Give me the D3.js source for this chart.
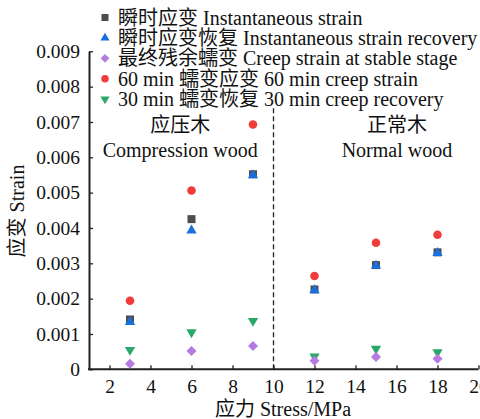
<!DOCTYPE html>
<html>
<head>
<meta charset="utf-8">
<script src="https://cdn.jsdelivr.net/npm/d3@7"></script>
<style>
  body { margin: 0; background: #fff; }
  svg { display: block; }
  text { font-family: "Liberation Serif", "Noto Sans CJK SC", serif; fill: #111; }
  .axis path, .axis line { stroke: #222; }
</style>
</head>
<body>
<svg id="graph"></svg>
<script>
// data
var stress = [3, 6, 9, 12, 15, 18];
var instStrain = [0.00141, 0.00425, 0.00552, 0.00226, 0.00295, 0.00331];
var instRecovery = [0.00134, 0.00393, 0.00549, 0.00224, 0.00293, 0.00329];
var stableCreep = [0.00016, 0.00052, 0.00066, 0.00024, 0.00035, 0.00030];
var creep60 = [0.00194, 0.00506, 0.00693, 0.00264, 0.00358, 0.00381];
var recovery30 = [0.00055, 0.00105, 0.00137, 0.00036, 0.00058, 0.00048];
var seriesNames = ["瞬时应变 Instantaneous strain", "瞬时应变恢复 Instantaneous strain recovery",
  "最终残余蠕变 Creep strain at stable stage", "60 min 蠕变应变 60 min creep strain",
  "30 min 蠕变恢复 30 min creep recovery"];
var xTicks = [2, 4, 6, 8, 10, 12, 14, 16, 18, 20];
var yTicks = [0, 0.001, 0.002, 0.003, 0.004, 0.005, 0.006, 0.007, 0.008, 0.009];
var divide = 10, divideTop = 0.0074;

var svg = d3.select("#graph")
  .attr('width', 480)
  .attr('height', 419)

var x = d3.scaleLinear().domain([1, 20]).range([89, 478.5]),
    y = d3.scaleLinear().domain([0, 0.009]).range([369.3, 51.3]);

var fs = 19.5, fsText = 20;

// axes, ticks point inward
svg.append("g").attr("class", "axis")
  .attr("transform", "translate(0," + y(0) + ")")
  .call(d3.axisBottom(x).tickValues(xTicks).tickSize(-4).tickSizeOuter(0).tickPadding(10))
  .call(function(g) {
    g.select(".domain").attr("stroke-width", 2).attr("d", "M" + (x(1) - 1) + ",0H" + x(20));
    g.selectAll(".tick line").attr("stroke-width", 1.3);
    g.selectAll("text").attr("font-size", fs).attr("font-family", null);
  });

svg.append("g").attr("class", "axis")
  .attr("transform", "translate(" + x(1) + ",0)")
  .call(d3.axisLeft(y).tickValues(yTicks).tickSize(-4).tickSizeOuter(0).tickPadding(9)
    .tickFormat(function(d) { return d === 0 ? "0" : d3.format(".3f")(d); }))
  .call(function(g) {
    g.select(".domain").attr("stroke-width", 2);
    g.selectAll(".tick line").attr("stroke-width", 1.3);
    g.selectAll("text").attr("font-size", fs).attr("font-family", null);
  });

// divider between the two wood types
svg.append("line")
  .attr("x1", x(divide)).attr("x2", x(divide))
  .attr("y1", y(0)).attr("y2", y(divideTop))
  .attr("stroke", "#222").attr("stroke-width", 1.3)
  .attr("stroke-dasharray", "5,3")

// region labels
var regions = [
  {cx: 5.45, lines: ["应压木", "Compression wood"]},
  {cx: 16.02, lines: ["正常木", "Normal wood"]}
];
regions.forEach(function(r) {
  r.lines.forEach(function(t, i) {
    svg.append("text")
      .attr("x", x(r.cx))
      .attr("y", 125 + i * 25)
      .attr("dy", "0.35em")
      .attr("text-anchor", "middle")
      .attr("font-size", fsText)
      .text(t)
  })
})

// symbols
var sq = d3.symbol().type(d3.symbolSquare),
    tri = d3.symbol().type(d3.symbolTriangle),
    circ = d3.symbol().type(d3.symbolCircle);

var styles = [
  {vals: instStrain, color: "#4d4d4d", path: sq.size(64)(), rot: 0, lp: sq.size(49)()},
  {vals: instRecovery, color: "#1a6fe0", path: tri.size(46)(), rot: 0, lp: tri.size(36)()},
  {vals: recovery30, color: "#2aa86a", path: tri.size(46)(), rot: 180, lp: tri.size(36)()},
  {vals: creep60, color: "#f23c3c", path: circ.size(58)(), rot: 0, lp: circ.size(44)()},
  {vals: stableCreep, color: "#b57be0", path: sq.size(50)(), rot: 45, lp: sq.size(38)()}
];

styles.forEach(function(s) {
  svg.append("g").selectAll("path")
    .data(stress)
    .enter().append("path")
    .attr("d", s.path)
    .attr("fill", s.color)
    .attr("transform", function(d, i) {
      return "translate(" + x(d) + "," + y(s.vals[i]) + ") rotate(" + s.rot + ")";
    })
});

// legend in the original order
var legendOrder = [0, 1, 4, 3, 2];
var legend = svg.append("g")
legendOrder.forEach(function(k, i) {
  var s = styles[k];
  var row = legend.append("g").attr("transform", "translate(105," + (17.5 + i * 20.4) + ")");
  row.append("path").attr("d", s.lp).attr("fill", s.color).attr("transform", "rotate(" + s.rot + ")");
  row.append("text").attr("x", 13).attr("dy", "0.35em").attr("font-size", fsText).text(seriesNames[i]);
});

// axis titles
svg.append("text")
  .attr("x", 283).attr("y", 416)
  .attr("text-anchor", "middle")
  .attr("font-size", fsText)
  .text("应力 Stress/MPa")

svg.append("text")
  .attr("transform", "translate(17,211) rotate(-90)")
  .attr("dy", "0.35em")
  .attr("text-anchor", "middle")
  .attr("font-size", fsText)
  .text("应变 Strain")
</script>
</body>
</html>
